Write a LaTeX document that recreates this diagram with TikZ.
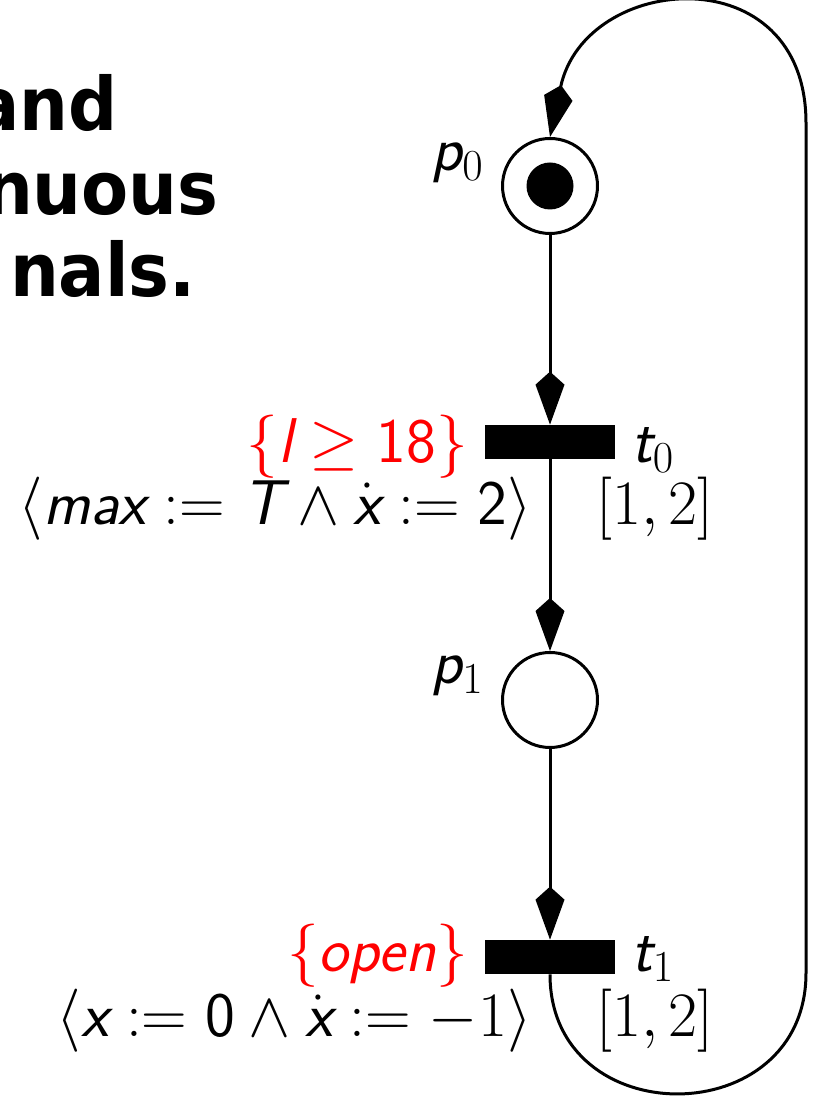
\RequirePackage{fix-cm}
\documentclass[tikz,border=0pt]{standalone}
\usepackage{fontspec}
\usepackage{tikz}
\usetikzlibrary{arrows.meta,positioning}
\newfontfamily\slidefont{DejaVu Sans}[FakeStretch=0.93]
\DeclareMathAlphabet{\mathssl}{TU}{lmss}{m}{sl}
\definecolor{guardred}{RGB}{255,0,0}

\begin{document}
\begin{tikzpicture}[x=0.02cm, y=0.02cm,
  place/.style={circle, draw, line width=0.06cm, minimum size=1.9cm, inner sep=0pt},
  token/.style={circle, fill, minimum size=0.94cm, inner sep=0pt},
  trans/.style={rectangle, fill, minimum width=2.62cm, minimum height=0.68cm, inner sep=0pt},
  lbl/.style={inner sep=0pt, font=\fontsize{36}{43}\selectfont},
  guard/.style={lbl, text=guardred},
  title/.style={inner sep=0pt, anchor=base east, font=\slidefont\bfseries\fontsize{42}{50}\selectfont},
  flow/.style={line width=0.06cm, -{Kite[length=1.06cm, width=0.58cm, inset=0.26cm]}},
]
\path[use as bounding box, fill=white] (0,0) rectangle (813,1099);

% slide text, cut at the left edge
\node[title] (ttl1) at (118,968) {and};
\node[title] (ttl2) at (219,884) {nuous};
\node[title] (ttl3) at (196,802) {nals.};

% places and transitions
\node[place] (p0) at (550,913) {};
\node[token] (tok) at (p0) {};
\node[trans] (t0) at (550,657) {};
\node[place] (p1) at (550,399) {};
\node[trans] (t1) at (550,142) {};

\coordinate (rb) at (806,126);
\coordinate (rt) at (806,976);

% labels
\node[lbl, anchor=base east] (lp0) at (484,928) {$\mathssl{p}_0$};
\node[lbl, anchor=base east] (lp1) at (484,415) {$\mathssl{p}_1$};

\node[lbl, anchor=base west] (lt0) at (631,636) {$\mathssl{t}_0$};
\node[lbl, anchor=base west] (it0) at (596,574) {$[1,2]$};
\node[guard, anchor=base east] (g0) at (468,636) {$\{\mathssl{l}\geq\mathsf{18}\}$};
\node[lbl, anchor=base east] (a0) at (532,574)
  {$\langle\mathssl{max}:=\mathssl{T}\wedge\dot{\mathssl{x}}:=\mathsf{2}\rangle$};

\node[lbl, anchor=base west] (lt1) at (631,127) {$\mathssl{t}_1$};
\node[lbl, anchor=base west] (it1) at (596,62) {$[1,2]$};
\node[guard, anchor=base east] (g1) at (468,127) {$\{\mathssl{open}\}$};
\node[lbl, anchor=base east] (a1) at (532,62)
  {$\langle\mathssl{x}:=\mathsf{0}\wedge\dot{\mathssl{x}}:=-1\rangle$};

% arcs
\draw[flow] (p0) -- (t0);
\draw[flow] (t0) -- (p1);
\draw[flow] (p1) -- (t1);
\draw[flow] (t1.south) to[out=-90, in=-90, looseness=1.6] (rb)
  -- (rt) to[out=90, in=78, looseness=1.68] (p0.north);

\end{tikzpicture}
\end{document}
